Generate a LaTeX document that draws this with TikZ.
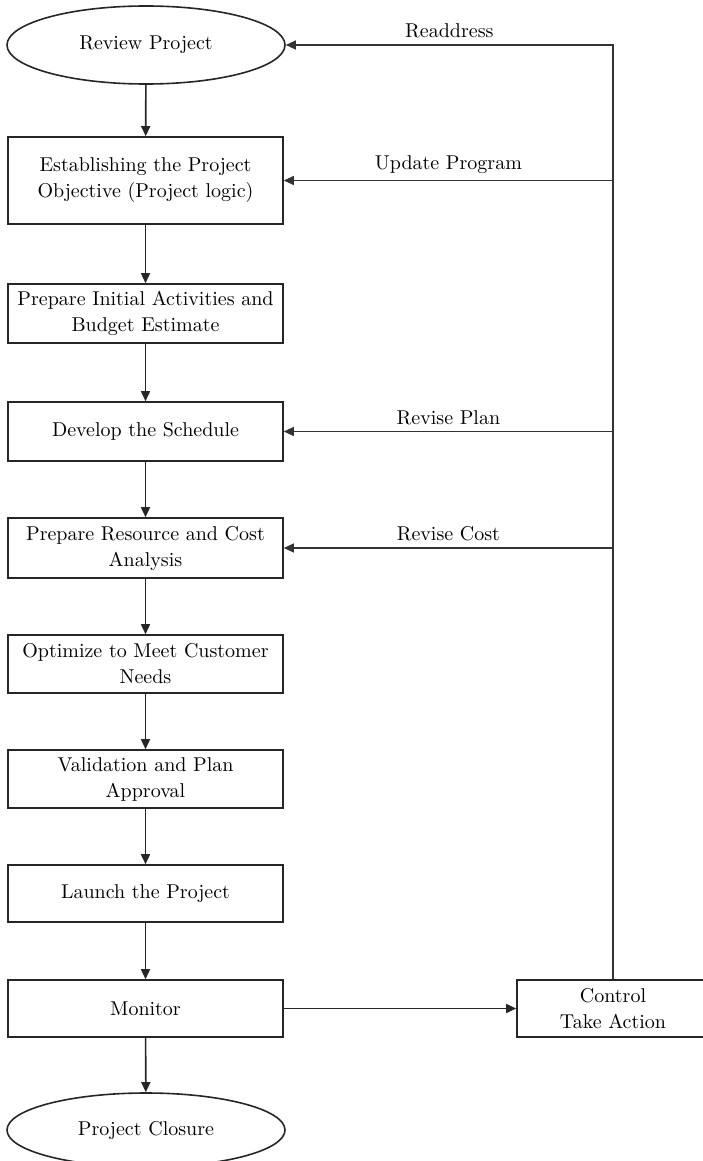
\documentclass[tikz,border=0pt]{standalone}
\usetikzlibrary{shapes.geometric, arrows.meta}

\begin{document}
\begin{tikzpicture}[
    x=0.5pt, y=-0.5pt,
    % Define the styles for the boxes, the two end ovals and the connectors
    stepbox/.style={rectangle, draw=black!85, line width=0.8pt, minimum width=137.5pt, align=center, inner sep=2pt, font=\fontsize{10}{13}\selectfont},
    endoval/.style={ellipse, draw=black!85, line width=0.8pt, minimum width=139pt, inner sep=0pt, font=\fontsize{10}{13}\selectfont},
    flow/.style={-{Triangle[length=5pt,width=4.5pt]}, line width=0.8pt, draw=black!85},
    back/.style={-{Triangle[length=5pt,width=4.5pt]}, line width=0.6pt, draw=black!80},
    lbl/.style={above, inner sep=3pt, font=\fontsize{10}{13}\selectfont}
]
    \useasboundingbox (0,0) rectangle (702,1161);

    % Start and end of the process
    \node[endoval, minimum height=39pt] (review) at (146,45) {Review Project};
    \node[endoval, minimum height=37pt] (closure) at (146,1130) {Project Closure};

    % Place the steps of the left column using a foreach loop (name/y/height/text)
    \foreach \id/\ypos/\hgt/\txt in {
        obj/180.5/87/{Establishing the Project\\Objective (Project logic)},
        init/313.5/59/{Prepare Initial Activities and\\Budget Estimate},
        sched/431.5/59/{Develop the Schedule},
        res/548/60/{Prepare Resource and Cost\\Analysis},
        opt/664/58/{Optimize to Meet Customer\\Needs},
        valid/779/58/{Validation and Plan\\Approval},
        launch/893.5/57/{Launch the Project},
        monitor/1008.5/57/{Monitor}} {
        \node[stepbox, minimum height={\hgt*0.5pt}] (\id) at (145.5,\ypos) {\txt};
    }

    \node[stepbox, minimum width=96pt, minimum height=28.5pt] (ctrl) at (613,1008.5) {Control\\Take Action};

    % Arrows down the column
    \foreach \a/\b in {review/obj, obj/init, init/sched, sched/res, res/opt, opt/valid, valid/launch, launch/monitor, monitor/closure} {
        \draw[flow] (\a) -- (\b);
    }
    \draw[flow] (monitor) -- (ctrl);

    % Feedback from control
    \draw[back] (ctrl.north) |- node[lbl, pos=0.75] {Readdress} (review.east);
    \draw[back] (ctrl.north |- obj.east) -- node[lbl] {Update Program} (obj.east);
    \draw[back] (ctrl.north |- sched.east) -- node[lbl] {Revise Plan} (sched.east);
    \draw[back] (ctrl.north |- res.east) -- node[lbl] {Revise Cost} (res.east);

\end{tikzpicture}
\end{document}
